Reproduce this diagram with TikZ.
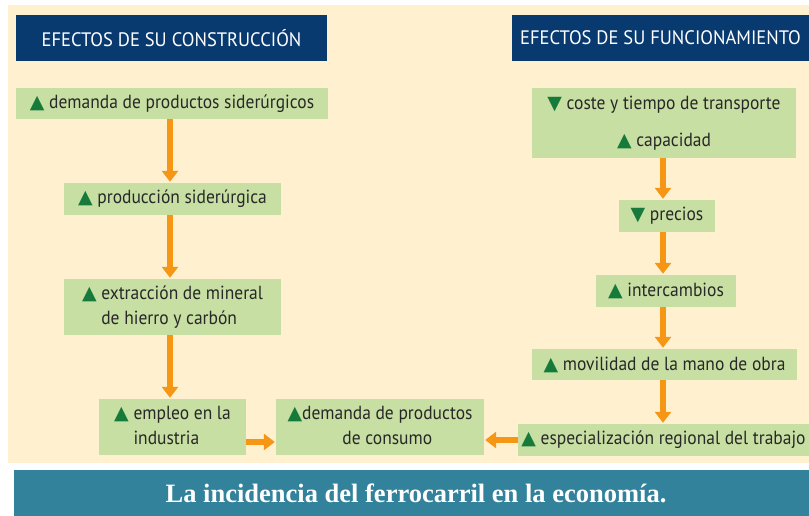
\documentclass[tikz,border=0pt]{standalone}
\usepackage{fontspec}
\usetikzlibrary{arrows.meta,calc}
\newfontfamily\ptsans[FakeStretch=0.92]{PT Sans}
\newfontfamily\hdsans[FakeStretch=0.95]{PT Sans}
\newfontfamily\symfont{DejaVu Sans}
\setmainfont{Liberation Serif}
\definecolor{cream}{RGB}{255,241,208}
\definecolor{boxgreen}{RGB}{200,223,163}
\definecolor{navy}{RGB}{8,58,112}
\definecolor{teal}{RGB}{50,130,155}
\definecolor{arrorange}{RGB}{245,150,20}
\definecolor{trigreen}{RGB}{22,122,58}
\definecolor{txtgray}{RGB}{40,40,40}
\newcommand{\upt}{{\symfont\fontsize{19}{19}\selectfont\color{trigreen}▲}}
\newcommand{\dnt}{{\symfont\fontsize{19}{19}\selectfont\color{trigreen}▼}}
\tikzset{
  gbox/.style={fill=boxgreen, inner sep=0pt, text=txtgray, font=\ptsans\fontsize{19}{25}\selectfont, anchor=center},
  hbox/.style={fill=navy, inner sep=0pt, text=white, font=\hdsans\fontsize{19.5}{22}\selectfont, anchor=center},
  arr/.style={draw=arrorange, line width=6.5pt, -{Triangle[width=16pt,length=11pt]}, shorten >=1pt},
}
\begin{document}
\begin{tikzpicture}[x=1pt,y=-1pt]
\useasboundingbox (0,0) rectangle (809,516);
\fill[white] (0,0) rectangle (809,516);
\fill[cream] (8,5) rectangle (809,463);
\fill[teal] (14,470) rectangle (809,516);
\node[font=\bfseries\fontsize{26.5}{30}\selectfont, text=white] (cap) at (416,493) {La incidencia del ferrocarril en la economía.};
% headers
\node[hbox, minimum width=311pt, minimum height=46pt] (h1) at (171.5,38) {EFECTOS DE SU CONSTRUCCIÓN};
\node[hbox, minimum width=297pt, minimum height=46pt] (h2) at (660.5,38) {EFECTOS DE SU FUNCIONAMIENTO};
% left column
\node[gbox, minimum width=312pt, minimum height=31pt] (b1) at (172,103.5) {\upt\ demanda de productos siderúrgicos};
\node[gbox, minimum width=217pt, minimum height=32pt] (b2) at (172.5,199) {\upt\ producción siderúrgica};
\node[gbox, minimum width=217pt, minimum height=56pt] (b3) at (172.5,307) {\upt\ \begin{tabular}[t]{@{}l@{}}extracción de mineral\\de hierro y carbón\end{tabular}};
\node[gbox, minimum width=147pt, minimum height=56pt] (b4) at (172.5,427) {\upt\ \begin{tabular}[t]{@{}l@{}}empleo en la\\industria\end{tabular}};
\node[gbox, minimum width=208pt, minimum height=56pt] (b5) at (380,427) {\upt\begin{tabular}[t]{@{}c@{}}demanda de productos\\de consumo\end{tabular}};
% right column
\node[gbox, minimum width=264pt, minimum height=70pt, align=center] (r1) at (664,123) {\dnt\ coste y tiempo de transporte\\[12pt]\upt\ capacidad};
\node[gbox, minimum width=96pt, minimum height=32pt] (r2) at (667,216) {\dnt\ precios};
\node[gbox, minimum width=140pt, minimum height=32pt] (r3) at (666,291) {\upt\ intercambios};
\node[gbox, minimum width=265pt, minimum height=31pt] (r4) at (664.5,364.5) {\upt\ movilidad de la mano de obra};
\node[gbox, minimum width=291pt, minimum height=32pt] (r5) at (663.5,440) {\upt\ especialización regional del trabajo};
% arrows
\draw[arr] ([xshift=-2pt]b1.south) -- ([xshift=-2.5pt]b2.north);
\draw[arr] ([xshift=-2.5pt]b2.south) -- ([xshift=-2.5pt]b3.north);
\draw[arr] ([xshift=-2.5pt]b3.south) -- ([xshift=-2.5pt]b4.north);
\draw[arr] ([yshift=-15pt]b4.east) -- ([yshift=-15pt]b5.west);
\draw[arr] (r5.west) -- (r5.west -| b5.east);
\draw[arr] ([xshift=-1pt]r1.south) -- ([xshift=-4pt]r2.north);
\draw[arr] ([xshift=-4pt]r2.south) -- ([xshift=-3pt]r3.north);
\draw[arr] ([xshift=-3pt]r3.south) -- ([xshift=-1.5pt]r4.north);
\draw[arr] ([xshift=-1.5pt]r4.south) -- ([xshift=-0.5pt]r5.north);
\end{tikzpicture}
\end{document}
